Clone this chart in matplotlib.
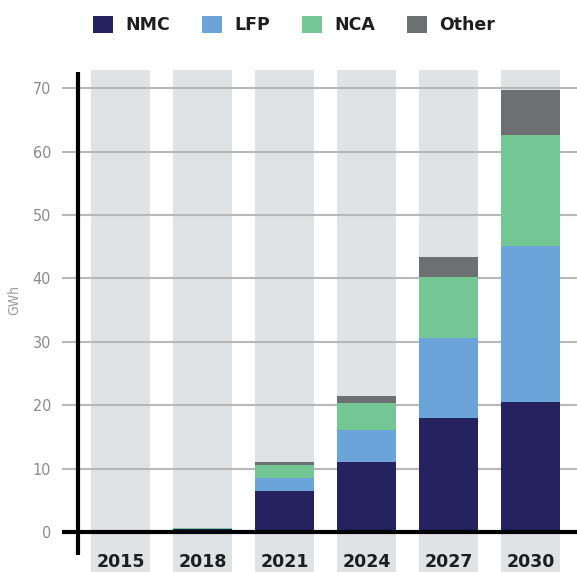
import matplotlib.pyplot as plt
from matplotlib.patches import Patch

years = ["2015", "2018", "2021", "2024", "2027", "2030"]
nmc = [0.2, 0.4, 6.5, 11.0, 18.0, 20.5]
lfp = [0.0, 0.0, 2.0, 5.1, 12.6, 24.6]
nca = [0.0, 0.2, 2.1, 4.2, 9.6, 17.5]
other = [0.0, 0.0, 0.4, 1.2, 3.2, 7.1]

series = [("NMC", nmc, "#26215f"), ("LFP", lfp, "#6ba4d8"),
          ("NCA", nca, "#74c795"), ("Other", other, "#6e6f71")]

fig = plt.figure(figsize=(5.77, 5.72), dpi=100)
ax = fig.add_axes([62 / 577, 0, 515 / 577, 512 / 572])
ax.set_xlim(-0.713, 5.567)
ax.set_ylim(-6.31, 74.45)

x = list(range(len(years)))

# background columns
ax.bar(x, [79.2] * len(x), bottom=-6.31, width=0.72, color="#e1e2e4", zorder=0)

# gridlines
for v in range(10, 80, 10):
    ax.axhline(v, color="#b8b8b8", lw=1.5, zorder=1)

bottom = [0.0] * len(x)
for name, vals, col in series:
    ax.bar(x, vals, bottom=bottom, width=0.72, color=col, zorder=2)
    bottom = [b + v for b, v in zip(bottom, vals)]

ax.axhline(0, color="black", lw=3, zorder=3)
ax.plot([-0.518, -0.518], [-3.6, 72.5], color="black", lw=3, zorder=3,
        solid_capstyle="butt")

for s in ax.spines.values():
    s.set_visible(False)

ax.set_yticks(range(0, 80, 10))
ax.set_yticklabels([str(v) for v in range(0, 80, 10)], color="#8a8a8a",
                   fontsize=11.5, fontstretch="condensed")
ax.tick_params(axis="y", length=0, pad=8)
ax.tick_params(axis="x", length=0)
ax.set_xticks([])
for i, yr in enumerate(years):
    ax.text(i, -4.7, yr, ha="center", va="center", fontsize=12.5,
            fontweight="bold", color="#1e1e1e", zorder=4)

fig.text(14 / 577, 1 - 300 / 572, "GWh", rotation=90, ha="center", va="center",
         color="#9a9a9a", fontsize=10, fontstretch="condensed")

handles = [Patch(facecolor=c, edgecolor="none", label=n) for n, _, c in series]
leg = fig.legend(handles=handles, loc="center", bbox_to_anchor=(294 / 577, 1 - 25 / 572),
                 ncol=4, frameon=False, handlelength=1.2, handleheight=1.2,
                 columnspacing=1.8, handletextpad=0.7,
                 prop={"size": 12.5, "weight": "bold"})
for t in leg.get_texts():
    t.set_color("#1e1e1e")

fig.savefig("out.png", dpi=100)
